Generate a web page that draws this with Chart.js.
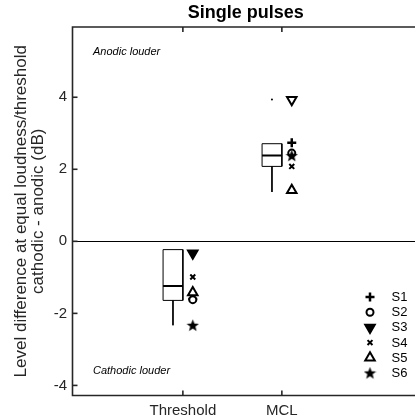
<!DOCTYPE html>
<html><head><meta charset="utf-8">
<script src="https://cdn.jsdelivr.net/npm/chart.js@4.4.1/dist/chart.umd.min.js"></script>
<style>html,body{margin:0;padding:0;background:#fff;}#wrap{width:415px;height:420px;}</style>
</head><body><div id="wrap"><canvas id="c" width="415" height="420"></canvas></div>
<script>
// ---- data ----
const categories = ['Threshold', 'MCL'];
const subjects = ['S1', 'S2', 'S3', 'S4', 'S5', 'S6'];
const thresholdValues = [-1.60, -1.62, -0.33, -0.99, -1.42, -2.33];
const mclValues = [2.74, 2.45, 3.93, 2.08, 1.42, 2.38];
const boxLow = [-2.33, 1.37];
const boxQ1 = [-1.64, 2.08];
const boxMedian = [-1.24, 2.38];
const boxQ3 = [-0.23, 2.71];
const boxHigh = [-0.23, 2.71];
const outliers = [[], [3.94]];
const yTicks = [-4, -2, 0, 2, 4];
const chartTitle = 'Single pulses';
const annotations = ['Anodic louder', 'Cathodic louder'];

Chart.defaults.font.family = "'Liberation Sans', Arial, sans-serif";

// star image
function makeStar(size) {
  const cv = document.createElement('canvas');
  cv.width = size; cv.height = size;
  const c = cv.getContext('2d');
  const cx = size / 2, cy = size / 2 + 0.5, R = size / 2, r = R * 0.42;
  c.beginPath();
  for (let i = 0; i < 10; i++) {
    const a = -Math.PI / 2 + i * Math.PI / 5;
    const rr = i % 2 === 0 ? R : r;
    c.lineTo(cx + rr * Math.cos(a), cy + rr * Math.sin(a));
  }
  c.closePath();
  c.fillStyle = '#000';
  c.fill();
  return cv;
}
const starImg = makeStar(13);

const markerStyles = [
  { pointStyle: 'cross', radius: 4.5, borderWidth: 2.5, bg: ['#000', '#000'], rotation: 0 },
  { pointStyle: 'circle', radius: 3.5, borderWidth: 2, bg: ['#fff', '#fff'], rotation: 0 },
  { pointStyle: 'triangle', radius: 5.5, borderWidth: 2, bg: ['#000', '#fff'], rotation: 180 },
  { pointStyle: 'crossRot', radius: 3.5, borderWidth: 2, bg: ['#000', '#000'], rotation: 0 },
  { pointStyle: 'triangle', radius: 5.5, borderWidth: 2, bg: ['#fff', '#fff'], rotation: 0 },
  { pointStyle: starImg, radius: 6, borderWidth: 0, bg: ['#000', '#000'], rotation: 0 }
];

const datasets = [];
const boxOffset = -0.1, markOffset = 0.1, halfW = 0.1;
categories.forEach((cat, i) => {
  const xc = i + 1 + boxOffset;
  const lineDs = (pts, w) => ({
    data: pts, showLine: true, pointRadius: 0, borderColor: '#000', borderWidth: w,
    tension: 0, order: 5
  });
  datasets.push(lineDs([
    { x: xc - halfW, y: boxQ1[i] }, { x: xc - halfW, y: boxQ3[i] },
    { x: xc + halfW, y: boxQ3[i] }, { x: xc + halfW, y: boxQ1[i] },
    { x: xc - halfW, y: boxQ1[i] }], 1));
  datasets.push(lineDs([{ x: xc - halfW, y: boxMedian[i] }, { x: xc + halfW, y: boxMedian[i] }], 2));
  if (boxLow[i] < boxQ1[i]) datasets.push(lineDs([{ x: xc, y: boxQ1[i] }, { x: xc, y: boxLow[i] }], 1));
  if (boxHigh[i] > boxQ3[i]) datasets.push(lineDs([{ x: xc, y: boxQ3[i] }, { x: xc, y: boxHigh[i] }], 1));
  if (outliers[i].length) datasets.push({
    data: outliers[i].map(v => ({ x: xc, y: v })), pointRadius: 1, pointBackgroundColor: '#000',
    pointBorderColor: '#000', pointBorderWidth: 0, showLine: false, order: 5
  });
});
subjects.forEach((s, k) => {
  const m = markerStyles[k];
  datasets.push({
    label: s,
    data: [{ x: 1 + markOffset, y: thresholdValues[k] }, { x: 2 + markOffset, y: mclValues[k] }],
    showLine: false,
    pointStyle: m.pointStyle, pointRadius: m.radius, pointBorderWidth: m.borderWidth,
    pointRotation: m.rotation, pointBackgroundColor: m.bg, pointBorderColor: '#000',
    pointHoverRadius: m.radius, order: 1 + (5 - k) * 0.1
  });
});

const frame = {
  id: 'frame',
  beforeDatasetsDraw(chart) {
    const { ctx, chartArea: a, scales: { y } } = chart;
    ctx.save();
    ctx.strokeStyle = '#000'; ctx.lineWidth = 1;
    const y0 = Math.round(y.getPixelForValue(0)) + 0.5;
    ctx.beginPath(); ctx.moveTo(a.left, y0); ctx.lineTo(a.right, y0); ctx.stroke();
    ctx.restore();
  },
  afterDraw(chart) {
    const { ctx, chartArea: a, scales: { x, y } } = chart;
    ctx.save();
    ctx.strokeStyle = '#262626'; ctx.lineWidth = 1.6;
    ctx.beginPath();
    ctx.moveTo(a.right, a.top); ctx.lineTo(a.left, a.top); ctx.lineTo(a.left, a.bottom); ctx.lineTo(a.right, a.bottom);
    ctx.stroke();
    const tl = 5;
    yTicks.forEach(v => {
      const py = y.getPixelForValue(v);
      ctx.beginPath(); ctx.moveTo(a.left, py); ctx.lineTo(a.left + tl, py); ctx.stroke();
    });
    categories.forEach((c, i) => {
      const px = x.getPixelForValue(i + 1);
      ctx.beginPath(); ctx.moveTo(px, a.bottom); ctx.lineTo(px, a.bottom - tl); ctx.stroke();
      ctx.beginPath(); ctx.moveTo(px, a.top); ctx.lineTo(px, a.top + tl); ctx.stroke();
    });
    // title
    ctx.fillStyle = '#000';
    ctx.font = "bold 18px 'Liberation Sans', Arial, sans-serif";
    ctx.textAlign = 'center'; ctx.textBaseline = 'middle';
    ctx.fillText(chartTitle, (a.left + a.right) / 2 + 2, 13);
    // annotations
    ctx.font = "italic 11px 'Liberation Sans', Arial, sans-serif";
    ctx.textBaseline = 'middle'; ctx.textAlign = 'left';
    ctx.fillText(annotations[0], a.left + 20.5, a.top + 25);
    ctx.fillText(annotations[1], a.left + 20.5, a.bottom - 25);
    // legend
    ctx.font = "13px 'Liberation Sans', Arial, sans-serif";
    const lx = a.right - 45, ty = a.top + 270, dy = 15.2;
    subjects.forEach((s, k) => {
      const m = markerStyles[k];
      const py = ty + k * dy;
      ctx.fillStyle = m.bg[0]; ctx.strokeStyle = '#000'; ctx.lineWidth = m.borderWidth;
      Chart.helpers.drawPoint(ctx, { pointStyle: m.pointStyle, rotation: m.rotation, radius: m.radius, borderWidth: m.borderWidth }, lx, py);
      ctx.fillStyle = '#000';
      ctx.fillText(s, lx + 21.5, py + 0.5);
    });
    ctx.restore();
  }
};

new Chart(document.getElementById('c'), {
  type: 'scatter',
  data: { datasets },
  options: {
    responsive: false, animation: false, devicePixelRatio: 1,
    layout: { autoPadding: false, padding: { left: 0, right: 0, top: 27, bottom: 0 } },
    plugins: {
      legend: { display: false }, tooltip: { enabled: false }, title: { display: false }
    },
    scales: {
      x: {
        type: 'linear', min: -0.115, max: 3.345,
        grid: { display: false, drawTicks: false }, border: { display: false },
        afterBuildTicks: s => { s.ticks = categories.map((c, i) => ({ value: i + 1 })); },
        ticks: { callback: v => categories[v - 1], font: { size: 15 }, color: '#262626', padding: 6, maxRotation: 0, autoSkip: false },
        afterFit: s => { s.height = 24.5; s.paddingLeft = 0; s.paddingRight = 0; }
      },
      y: {
        type: 'linear', min: -4.28, max: 5.95,
        grid: { display: false, drawTicks: false }, border: { display: false },
        afterBuildTicks: s => { s.ticks = yTicks.map(v => ({ value: v })); },
        ticks: { font: { size: 15 }, color: '#262626', padding: 5.5 },
        title: {
          display: true, text: ['Level difference at equal loudness/threshold', 'cathodic - anodic (dB)'],
          color: '#262626', font: { size: 17, lineHeight: 1.0 }, padding: { top: 12.5, bottom: 0 }
        },
        afterFit: s => { s.width = 72.5; s.paddingTop = 0; s.paddingBottom = 0; }
      }
    }
  },
  plugins: [frame]
});
</script>
</body></html>
